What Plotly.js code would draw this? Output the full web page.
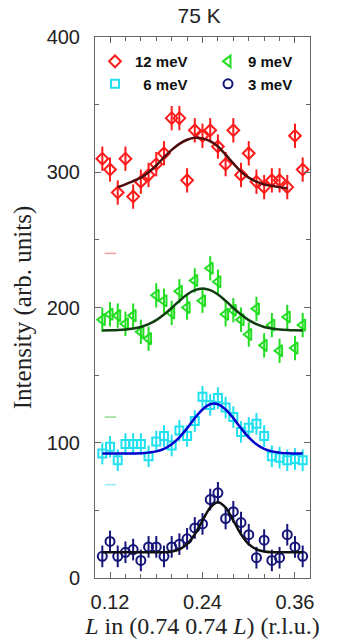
<!DOCTYPE html>
<html>
<head>
<meta charset="utf-8">
<script src="https://cdn.plot.ly/plotly-3.0.1.min.js"></script>
<style>html,body{margin:0;padding:0;background:#fff;}#chart{width:348px;height:643px;}</style>
</head>
<body>
<div id="chart"></div>
<script>
// ---- data ----
const L = [0.11,0.12,0.13,0.14,0.15,0.16,0.17,0.18,0.19,0.20,0.21,0.22,0.23,0.24,0.25,0.26,0.27,0.28,0.29,0.30,0.31,0.32,0.33,0.34,0.35,0.36,0.37];

const I12 = [310,302,285,310,282,293,298,306,314,340,340,294,331,327,331,319,306,331,298,314,293,289,294,294,289,327,302];
const I9  = [191,195,194,188,194,182,177,209,205,196,212,200,220,205,229,219,195,198,191,180,199,172,187,168,193,170,187];
const I6  = [92,97,87,99,99,99,90,101,105,98,109,105,116,134,128,133,126,119,108,111,114,105,90,89,87,88,87];
const I3  = [16,27,16,19,21,13,23,23,16,23,25,29,37,40,58,63,44,49,41,32,15,28,13,15,32,23,16];

const err12 = 9, err9 = 9, err6 = 8, err3 = 8;

const fitL12 = [0.13,0.14,0.15,0.16,0.17,0.18,0.19,0.20,0.21,0.22,0.23,0.24,0.25,0.26,0.27,0.28,0.29,0.30,0.31,0.32,0.33,0.34,0.35];
const fit12  = [289,291,293.5,296,300,305,311,316.5,321,324,325.5,325,323,319,313,306.5,300.5,296,293,291,290,289,288];

const fitL = [0.11,0.12,0.13,0.14,0.15,0.16,0.17,0.18,0.19,0.20,0.21,0.22,0.23,0.24,0.25,0.26,0.27,0.28,0.29,0.30,0.31,0.32,0.33,0.34,0.35,0.36,0.37];
const fit9 = [183,183.1,183.3,183.7,184.4,185.6,187.7,190.7,194.8,199.7,204.9,209.6,212.8,214,212.8,209.6,204.9,199.7,194.8,190.7,187.7,185.6,184.4,183.7,183.3,183.1,183];
const fit6 = [92,92,92,92,92.1,92.2,92.7,93.6,95.5,98.9,104,110.7,118.2,124.6,128.5,128.5,124.6,118.2,110.7,104,98.9,95.5,93.6,92.7,92.2,92.1,92];
const fit3 = [19,19,19,19,19,19,19,19,19.1,19.6,21.2,25,32.3,42.5,52,56,52,42.5,32.3,25,21.2,19.6,19.1,19,19,19,19];

const dashL = [0.113, 0.128];
const dashLevels = [240, 119, 69];

const names = ['12 meV', '9 meV', '\u20076 meV', '3 meV'];
const xTickVals = [0.12, 0.24, 0.36];
const xTickText = ['0.12', '0.24', '0.36'];
const yTickVals = [0, 100, 200, 300, 400];
const yTickText = ['0', '100', '200', '300', '400'];

// ---- styles ----
const cols = ['#ff1a1a', '#22dd22', '#22e0f0', '#15157a'];
const fitCols = ['#4e0b0b', '#0f3d0f', '#0000cc', '#111111'];
const dashCols = ['#f0a0a0', '#90dd90', '#90eef5'];

function pts(y, err, name, col, sym, size, leg) {
  return {
    x: L, y: y, name: name, type: 'scatter', mode: 'markers', legend: leg,
    marker: {symbol: sym, size: size, color: col, line: {color: col, width: 2}},
    error_y: {type: 'constant', value: err, color: col, thickness: 2, width: 0},
    showlegend: true
  };
}
function fit(x, y, col) {
  return {x: x, y: y, type: 'scatter', mode: 'lines', line: {color: col, width: 2.5, shape: 'spline'},
          showlegend: false, hoverinfo: 'skip'};
}
const traces = [];
dashLevels.forEach((v, i) => traces.push({x: dashL, y: [v, v], type: 'scatter', mode: 'lines',
  line: {color: dashCols[i], width: 1.5}, showlegend: false, hoverinfo: 'skip'}));
traces.push(pts(I12, err12, names[0], cols[0], 'diamond-open', 9, 'legend'));
traces.push(pts(I9, err9, names[1], cols[1], 'triangle-left-open', 10, 'legend2'));
traces.push(pts(I6, err6, names[2], cols[2], 'square-open', 8, 'legend'));
traces.push(pts(I3, err3, names[3], cols[3], 'circle-open', 9, 'legend2'));
traces.push(fit(fitL12, fit12, fitCols[0]));
traces.push(fit(fitL, fit9, fitCols[1]));
traces.push(fit(fitL, fit6, fitCols[2]));
traces.push(fit(fitL, fit3, fitCols[3]));

const axisCommon = {
  showline: true, linecolor: '#666', linewidth: 1, mirror: 'ticks',
  ticks: 'inside', ticklen: 6, tickcolor: '#666', tickwidth: 1,
  showgrid: false, zeroline: false,
  tickfont: {family: 'Arial, Liberation Sans, sans-serif', size: 20, color: '#222'}
};

const legendFont = {family: 'Arial, Liberation Sans, sans-serif', size: 15, color: '#111', weight: 'bold'};

const layout = {
  width: 348, height: 643,
  margin: {l: 95, r: 38, t: 37, b: 65},
  paper_bgcolor: '#fff', plot_bgcolor: '#fff',
  title: {text: '75 K', x: 0.572, xanchor: 'center', y: 0.975, yanchor: 'middle',
          font: {family: 'Arial, Liberation Sans, sans-serif', size: 21, color: '#222'}},
  xaxis: Object.assign({}, axisCommon, {
    range: [0.1005, 0.3795], tickmode: 'array', tickvals: xTickVals, ticktext: xTickText,
    ticklabelstandoff: 6,
    minor: {tickmode: 'linear', tick0: 0.10, dtick: 0.02, ticks: 'inside', ticklen: 4, tickcolor: '#666'},
    title: {text: '<i>L</i> in (0.74 0.74 <i>L</i>) (r.l.u.)', standoff: 0,
            font: {family: 'Liberation Serif, Times New Roman, serif', size: 24, color: '#222'}}
  }),
  yaxis: Object.assign({}, axisCommon, {
    range: [0, 400], tickmode: 'array', tickvals: yTickVals, ticktext: yTickText,
    ticklabelstandoff: 10,
    minor: {tickmode: 'linear', tick0: 0, dtick: 50, ticks: 'inside', ticklen: 4, tickcolor: '#666'},
    title: {text: 'Intensity (arb. units)', standoff: 7,
            font: {family: 'Liberation Serif, Times New Roman, serif', size: 25, color: '#222'}}
  }),
  legend: {orientation: 'v', x: 0.0, xanchor: 'left', y: 0.985, yanchor: 'top',
           bgcolor: 'rgba(0,0,0,0)', borderwidth: 0, font: legendFont, itemwidth: 30, tracegroupgap: 0},
  legend2: {orientation: 'v', x: (208 - 95) / 215, xanchor: 'left', y: 0.985, yanchor: 'top',
           bgcolor: 'rgba(0,0,0,0)', borderwidth: 0, font: legendFont, itemwidth: 30, tracegroupgap: 0},
  showlegend: true
};

Plotly.newPlot('chart', traces, layout, {staticPlot: true, displayModeBar: false});
</script>
</body>
</html>
